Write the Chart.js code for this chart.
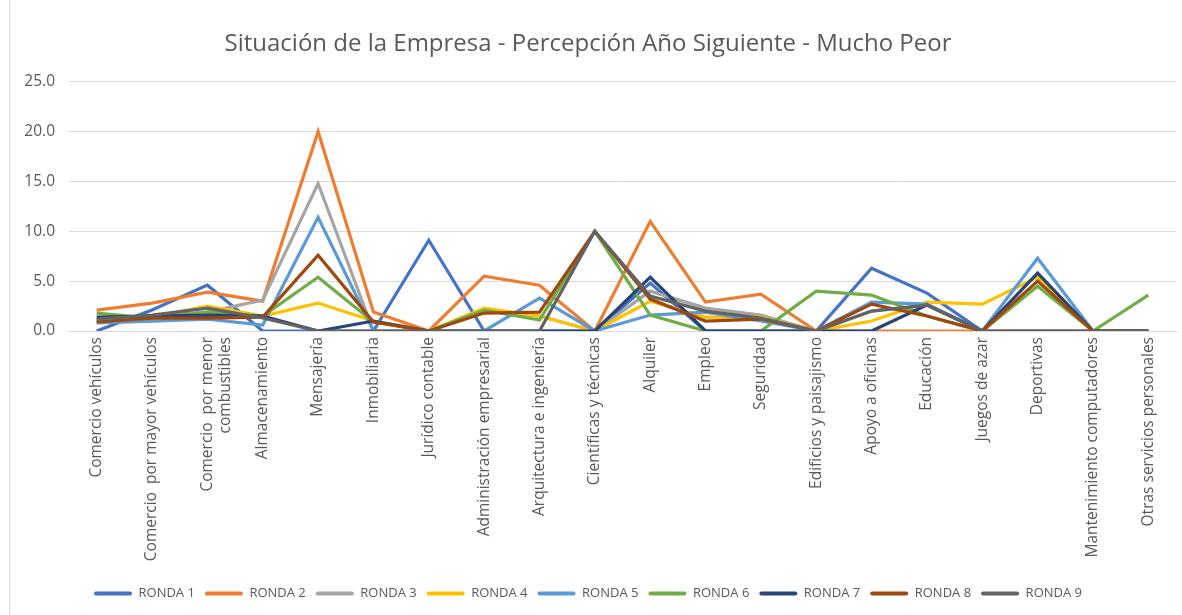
<!DOCTYPE html>
<html lang="es">
<head>
<meta charset="utf-8">
<title>Situación de la Empresa</title>
<script src="https://cdn.jsdelivr.net/npm/chart.js@4.4.1/dist/chart.umd.min.js"></script>
<style>
  html, body { margin: 0; padding: 0; background: #fff; overflow: hidden; }
  .frame { position: absolute; left: 9px; top: 0; width: 1182px; height: 615px; border-left: 1px solid #d9d9d9; }
  .wrap { position: absolute; left: 0; top: 0; width: 1182px; height: 615px; }
</style>
</head>
<body>
<div class="frame"></div>
<div class="wrap"><canvas id="chart"></canvas></div>
<script>
// Categories (x axis)
const CATEGORIAS = [
  "Comercio vehículos",
  "Comercio  por mayor vehículos",
  ["Comercio  por menor", "combustibles"],
  "Almacenamiento",
  "Mensajería",
  "Inmobiliaria",
  "Jurídico contable",
  "Administración empresarial",
  "Arquitectura e ingeniería",
  "Científicas y técnicas",
  "Alquiler",
  "Empleo",
  "Seguridad",
  "Edificios y paisajismo",
  "Apoyo a oficinas",
  "Educación",
  "Juegos de azar",
  "Deportivas",
  "Mantenimiento computadores",
  "Otras servicios personales",
];

// Series values, one array per round
const RONDA_1 = [0, 2.1, 4.6, 0, 0, 0, 9.1, 0, 0, 0, 4.8, 0, 0, 0, 6.3, 3.8, 0, 0, 0, 0];
const RONDA_2 = [2.1, 2.8, 3.9, 3.0, 20.0, 1.9, 0, 5.5, 4.6, 0, 11.0, 2.9, 3.7, 0, 0, 0, 0, 0, 0, 0];
const RONDA_3 = [1.0, 1.5, 1.9, 3.1, 14.8, 0, 0, 2.0, 1.5, 0, 4.0, 2.3, 1.6, 0, 2.0, 2.6, 0, 0, 0, 0];
const RONDA_4 = [1.0, 1.4, 2.5, 1.5, 2.8, 1.0, 0, 2.3, 1.5, 0, 3.0, 1.4, 1.4, 0, 1.0, 2.9, 2.7, 5.4, 0, 0];
const RONDA_5 = [0.8, 1.0, 1.2, 0.6, 11.4, 0, 0, 0, 3.3, 0, 1.6, 1.9, 1.0, 0, 2.9, 2.7, 0, 7.3, 0, 0];
const RONDA_6 = [1.8, 1.3, 1.9, 1.5, 5.4, 0.9, 0, 2.1, 1.1, 10.0, 1.6, 0, 0, 4.0, 3.6, 1.5, 0, 4.5, 0, 3.6];
const RONDA_7 = [1.4, 1.5, 1.6, 1.5, 0, 1.0, 0, 0, 0, 0, 5.4, 0, 0, 0, 0, 2.6, 0, 5.8, 0, 0];
const RONDA_8 = [0.9, 1.3, 1.3, 1.4, 7.6, 0.9, 0, 1.8, 1.9, 10.0, 3.2, 1.0, 1.2, 0, 2.7, 1.5, 0, 5.0, 0, 0];
const RONDA_9 = [1.2, 1.6, 2.3, 1.3, 0, 0, 0, 0, 0, 10.0, 3.5, 2.0, 1.3, 0, 2.0, 2.6, 0, 0, 0, 0];

// Y axis ticks
const Y_MIN = 0;
const Y_MAX = 25;
const Y_STEP = 5;

const SERIES = [
  { label: "RONDA 1", data: RONDA_1, color: "#4472C4" },
  { label: "RONDA 2", data: RONDA_2, color: "#ED7D31" },
  { label: "RONDA 3", data: RONDA_3, color: "#A5A5A5" },
  { label: "RONDA 4", data: RONDA_4, color: "#FFC000" },
  { label: "RONDA 5", data: RONDA_5, color: "#5B9BD5" },
  { label: "RONDA 6", data: RONDA_6, color: "#70AD47" },
  { label: "RONDA 7", data: RONDA_7, color: "#264478" },
  { label: "RONDA 8", data: RONDA_8, color: "#9E480E" },
  { label: "RONDA 9", data: RONDA_9, color: "#636363" },
];

const TEXT = "#595959";
const FONT = "'Open Sans', 'Liberation Sans', sans-serif";

var ctx = document.getElementById("chart").getContext("2d");
var chart = new Chart(ctx, {
  type: "line",
  data: {
    labels: CATEGORIAS,
    // later rounds are painted on top, like the original
    datasets: SERIES.map((s, i) => ({
      label: s.label,
      data: s.data,
      borderColor: s.color,
      backgroundColor: s.color,
      borderWidth: 3.2,
      pointRadius: 0,
      pointHoverRadius: 0,
      tension: 0,
      fill: false,
      order: SERIES.length - i,
    })),
  },
  options: {
    responsive: true,
    maintainAspectRatio: false,
    animation: false,
    layout: { padding: { left: 0, right: 6, top: 0, bottom: 5 } },
    plugins: {
      title: {
        display: true,
        text: "Situación de la Empresa - Percepción Año Siguiente - Mucho Peor",
        color: TEXT,
        font: { family: FONT, size: 24, weight: "normal" },
        padding: { top: 30, bottom: 23 },
      },
      legend: {
        position: "bottom",
        labels: {
          color: TEXT,
          font: { family: FONT, size: 13 },
          boxWidth: 38,
          boxHeight: 4,
          padding: 10,
          sort: (a, b) => a.datasetIndex - b.datasetIndex,
          generateLabels: (c) =>
            Chart.defaults.plugins.legend.labels.generateLabels(c).map((l) => ({
              ...l,
              lineWidth: 0,
              borderRadius: 2,
            })),
        },
      },
      tooltip: { enabled: false },
    },
    scales: {
      x: {
        offset: true,
        grid: { display: false, drawTicks: false },
        border: { display: true, color: "#D9D9D9", width: 1 },
        ticks: {
          color: TEXT,
          font: { family: FONT, size: 15.5 },
          minRotation: 90,
          maxRotation: 90,
          autoSkip: false,
          padding: 6,
        },
        afterFit: (scale) => { scale.height = 246; },
      },
      y: {
        min: Y_MIN,
        max: Y_MAX,
        grid: { color: "#D9D9D9", drawTicks: false },
        border: { display: false },
        ticks: {
          stepSize: Y_STEP,
          color: TEXT,
          font: { family: FONT, size: 15.5 },
          padding: 14,
          callback: (v) => v.toFixed(1),
        },
        afterFit: (scale) => { scale.width = 69; },
      },
    },
  },
});
</script>
</body>
</html>
